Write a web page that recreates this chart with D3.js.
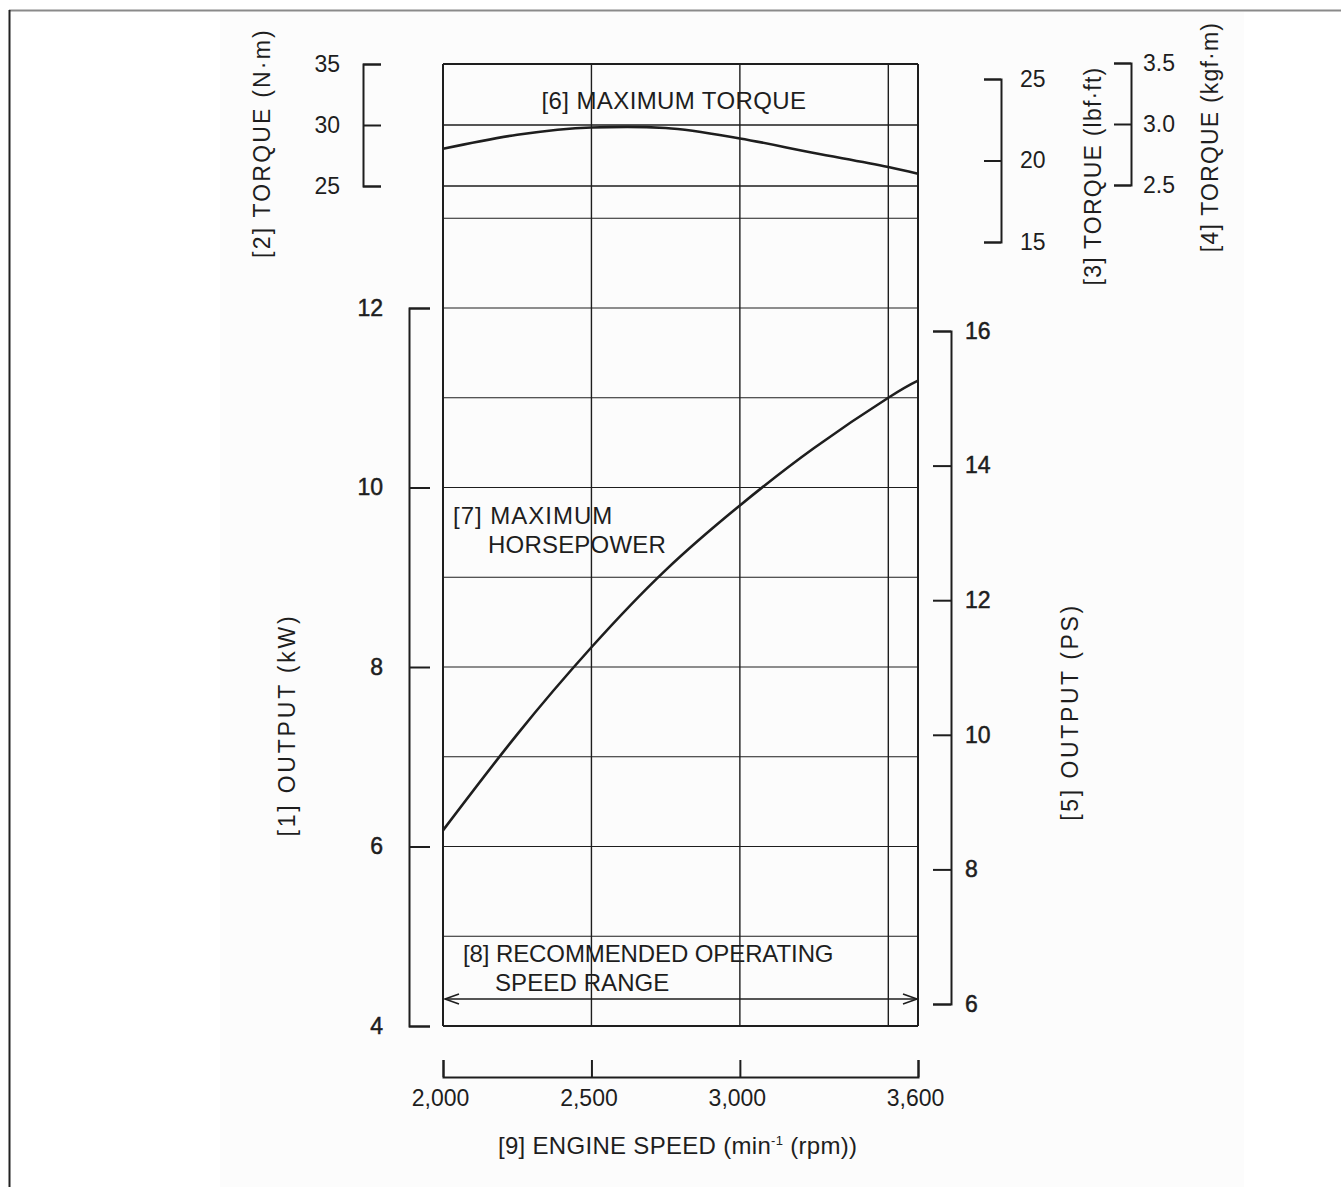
<!DOCTYPE html>
<html>
<head>
<meta charset="utf-8">
<script src="https://cdn.jsdelivr.net/npm/d3@7"></script>
<style>
  html, body { margin: 0; padding: 0; background: #fff; }
  svg { display: block; }
  text { font-family: "Liberation Sans", Arial, Helvetica, sans-serif; fill: #1e1e1e; }
</style>
</head>
<body>
<svg id="chart" width="1341" height="1187"></svg>
<script>
// ---------- data ----------
const rpmTicks = [2000, 2500, 3000, 3600];
const rpmGrid = [2000, 2500, 3000, 3500, 3600];
const kwTicks = [4, 6, 8, 10, 12];
const kwGrid = [4, 5, 6, 7, 8, 9, 10, 11, 12, 13];
const psTicks = [6, 8, 10, 12, 14, 16];
const nmTicks = [25, 30, 35];
const nmGrid = [25, 30, 35];
const lbfTicks = [15, 20, 25];
const kgfTicks = [2.5, 3.0, 3.5];

const torqueRpm = [2000, 2250, 2500, 2620, 2750, 3000, 3250, 3500, 3600];
const torqueNm  = [28.05, 29.2, 29.8, 29.85, 29.75, 28.9, 27.7, 26.55, 26.0];

const powerRpm = [2000, 2250, 2500, 2750, 3000, 3250, 3500, 3600];
const powerKW  = [6.18, 7.25, 8.22, 9.08, 9.8, 10.44, 11.0, 11.19];

// ---------- setup ----------
const svg = d3.select("#chart");
const ink = "#1e1e1e";
const FS = 24;

svg.append("rect").attr("x", 0).attr("y", 0).attr("width", 1341).attr("height", 1187).attr("fill", "#fff");
svg.append("rect").attr("x", 220).attr("y", 12).attr("width", 1024).attr("height", 1175).attr("fill", "#fcfcfc");
// page border
svg.append("line").attr("x1", 9).attr("x2", 1341).attr("y1", 10.5).attr("y2", 10.5)
  .attr("stroke", "#8a8a8a").attr("stroke-width", 2);
svg.append("line").attr("x1", 9.5).attr("x2", 9.5).attr("y1", 10).attr("y2", 1187)
  .attr("stroke", "#222").attr("stroke-width", 2);

// ---------- scales ----------
const x = d3.scaleLinear().domain([2000, 3600]).range([443, 918]);
const yKW = d3.scaleLinear().domain([4, 12]).range([1026, 308]);
const yPS = d3.scaleLinear().domain([6, 16]).range([1004, 331]);
const yNm = d3.scaleLinear().domain([25, 35]).range([186, 64]);
const yLbf = d3.scaleLinear().domain([15, 25]).range([242, 79]);
const yKgf = d3.scaleLinear().domain([2.5, 3.5]).range([185, 63]);

// ---------- grid ----------
const grid = svg.append("g").attr("stroke", ink).attr("fill", "none");
grid.selectAll("line.v").data(rpmGrid).join("line")
  .attr("x1", d => x(d)).attr("x2", d => x(d))
  .attr("y1", yNm(35)).attr("y2", yKW(4))
  .attr("stroke-width", d => (d === 2000 || d === 3600) ? 2 : 1.4);
grid.selectAll("line.hk").data(kwGrid).join("line")
  .attr("x1", x(2000)).attr("x2", x(3600))
  .attr("y1", d => yKW(d)).attr("y2", d => yKW(d))
  .attr("stroke-width", d => d === 4 ? 2 : 1.2);
grid.selectAll("line.hn").data(nmGrid).join("line")
  .attr("x1", x(2000)).attr("x2", x(3600))
  .attr("y1", d => yNm(d)).attr("y2", d => yNm(d))
  .attr("stroke-width", d => d === 35 ? 2 : 1.3);

// ---------- axes ----------
function styleAxis(g, bold) {
  g.selectAll("path.domain").attr("stroke", ink).attr("stroke-width", 2);
  g.selectAll(".tick line").attr("stroke", ink).attr("stroke-width", 2);
  const t = g.selectAll("text").attr("font-size", 23).attr("fill", ink)
    .style("font-family", '"Liberation Sans", Arial, sans-serif');
  if (bold) t.attr("stroke", ink).attr("stroke-width", 0.5);
}

// kW axis (left bracket, labels on the left)
const gKW = svg.append("g").attr("transform", "translate(409,0)")
  .call(d3.axisRight(yKW).tickValues(kwTicks).tickSize(21).tickFormat(d3.format("d")));
styleAxis(gKW, true);
gKW.selectAll("text").attr("x", -26).attr("text-anchor", "end");

// N·m axis
const gNm = svg.append("g").attr("transform", "translate(363,0)")
  .call(d3.axisRight(yNm).tickValues(nmTicks).tickSize(18).tickFormat(d3.format("d")));
styleAxis(gNm);
gNm.selectAll("text").attr("x", -23).attr("text-anchor", "end");

// lbf·ft axis
const gLbf = svg.append("g").attr("transform", "translate(1001,0)")
  .call(d3.axisLeft(yLbf).tickValues(lbfTicks).tickSize(17).tickFormat(d3.format("d")));
styleAxis(gLbf);
gLbf.selectAll("text").attr("x", 19).attr("text-anchor", "start");

// kgf·m axis
const gKgf = svg.append("g").attr("transform", "translate(1131,0)")
  .call(d3.axisLeft(yKgf).tickValues(kgfTicks).tickSize(17).tickFormat(d3.format(".1f")));
styleAxis(gKgf);
gKgf.selectAll("text").attr("x", 12).attr("text-anchor", "start");

// PS axis
const gPS = svg.append("g").attr("transform", "translate(951,0)")
  .call(d3.axisLeft(yPS).tickValues(psTicks).tickSize(18).tickFormat(d3.format("d")));
styleAxis(gPS, true);
gPS.selectAll("text").attr("x", 14).attr("text-anchor", "start");

// rpm axis (bracket below the plot, labels underneath)
const gX = svg.append("g").attr("transform", "translate(0,1077)")
  .call(d3.axisTop(x).tickValues(rpmTicks).tickSize(17).tickFormat(d3.format(",")));
styleAxis(gX);
gX.selectAll("text").attr("y", 29).attr("dy", 0).attr("dx", -3);

// ---------- curves ----------
const torqueLine = d3.line().x((d, i) => x(torqueRpm[i])).y(d => yNm(d)).curve(d3.curveMonotoneX);
svg.append("path").attr("d", torqueLine(torqueNm))
  .attr("fill", "none").attr("stroke", ink).attr("stroke-width", 2.6);

const powerLine = d3.line().x((d, i) => x(powerRpm[i])).y(d => yKW(d)).curve(d3.curveNatural);
svg.append("path").attr("d", powerLine(powerKW))
  .attr("fill", "none").attr("stroke", ink).attr("stroke-width", 2.6);

// ---------- recommended range arrow ----------
const ay = 999;
const ax0 = x(2000) + 2, ax1 = x(3600) - 1;
svg.append("line").attr("x1", ax0).attr("x2", ax1).attr("y1", ay).attr("y2", ay)
  .attr("stroke", ink).attr("stroke-width", 1.6);
svg.append("path").attr("d", `M${ax0 + 14},${ay - 5} L${ax0},${ay} L${ax0 + 14},${ay + 5}`)
  .attr("fill", "none").attr("stroke", ink).attr("stroke-width", 1.6);
svg.append("path").attr("d", `M${ax1 - 14},${ay - 5} L${ax1},${ay} L${ax1 - 14},${ay + 5}`)
  .attr("fill", "none").attr("stroke", ink).attr("stroke-width", 1.6);

// ---------- annotations ----------
function label(txt, tx, ty, ls, anchor) {
  svg.append("text").attr("x", tx).attr("y", ty).attr("font-size", FS)
    .attr("letter-spacing", ls)
    .attr("text-anchor", anchor || "start").text(txt);
}
label("[6] MAXIMUM TORQUE", 674, 109, 0.4, "middle");
label("[7] MAXIMUM", 453, 524, 1.0);
label("HORSEPOWER", 488, 553, 0.2);
label("[8] RECOMMENDED OPERATING", 463, 962, -0.1);
label("SPEED RANGE", 495, 991, 0.1);

// x title with superscript
const xt = svg.append("text").attr("x", 498).attr("y", 1154).attr("font-size", FS).attr("letter-spacing", 0.3);
xt.append("tspan").text("[9] ENGINE SPEED (min");
xt.append("tspan").attr("font-size", 13).attr("dy", -9).text("-1");
xt.append("tspan").attr("dy", 9).text(" (rpm))");

// rotated axis titles
function vlabel(txt, cx, cy, ls) {
  svg.append("text").attr("transform", `translate(${cx},${cy}) rotate(-90)`)
    .attr("font-size", 23).attr("text-anchor", "middle")
    .attr("letter-spacing", ls).attr("dy", "0.35em").text(txt);
}
vlabel("[1] OUTPUT (kW)", 287, 725, 2.8);
vlabel("[2] TORQUE (N·m)", 262, 143, 2.2);
vlabel("[3] TORQUE (lbf·ft)", 1093, 176, 1.2);
vlabel("[4] TORQUE (kgf·m)", 1210, 137, 1.2);
vlabel("[5] OUTPUT (PS)", 1070, 712, 2.6);
</script>
</body>
</html>
